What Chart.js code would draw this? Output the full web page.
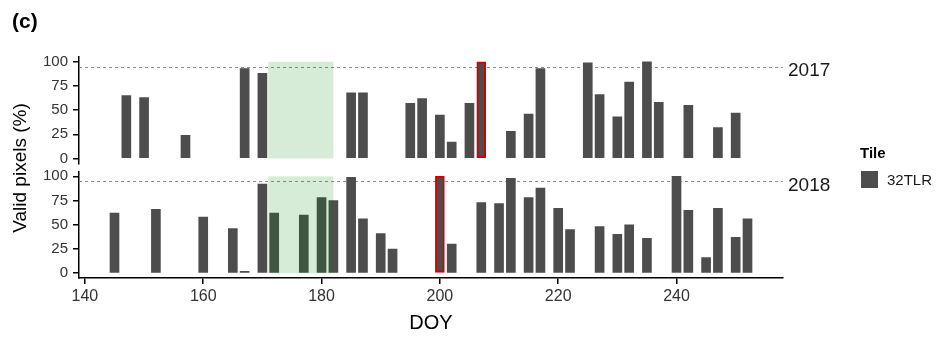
<!DOCTYPE html>
<html>
<head>
<meta charset="utf-8">
<script src="https://cdn.jsdelivr.net/npm/chart.js@4/dist/chart.umd.min.js"></script>
<style>
  body { margin: 0; background: #fff; font-family: "Liberation Sans", Arial, sans-serif; }
  #wrap { position: relative; width: 937px; height: 338px; }
  #chart { position: absolute; left: 0; top: 0; }
  .txt { position: absolute; white-space: nowrap; color: #000; }
</style>
</head>
<body>
<div id="wrap">
  <canvas id="chart" width="937" height="338"></canvas>
  <div class="txt" style="left:12px; top:9px; font-size:21px; font-weight:bold;">(c)</div>
  <div class="txt" style="left:20px; top:168px; font-size:19px; transform:translate(-50%,-50%) rotate(-90deg);">Valid pixels (%)</div>
  <div class="txt" style="left:788px; top:59px; font-size:19px; color:#1a1a1a;">2017</div>
  <div class="txt" style="left:788px; top:174px; font-size:19px; color:#1a1a1a;">2018</div>
  <div class="txt" style="left:860px; top:144px; font-size:15px; font-weight:bold;">Tile</div>
  <div style="position:absolute; left:861px; top:171px; width:17px; height:17px; background:#4d4d4d;"></div>
  <div class="txt" style="left:887px; top:171px; font-size:15px; color:#1a1a1a;">32TLR</div>
</div>
<script>
// day of year of each acquisition and its share of valid pixels
const doy2017 = [147,150,157,167,170,185,187,195,197,200,202,205,207,212,215,217,225,227,230,232,235,237,242,247,250];
const valid2017 = [65,63,24,93,88,68,68,57,62,45,17,57,100,28,46,93,99,66,43,79,100,58,55,32,47];
const doy2018 = [145,152,160,165,167,170,172,177,180,182,185,187,190,192,200,202,207,210,212,215,217,220,222,227,230,232,235,240,242,245,247,250,252];
const valid2018 = [62,66,58,46,2,92,62,60,78,75,99,56,41,25,100,30,73,72,98,78,88,67,45,48,40,50,36,100,65,16,67,37,56];

// marked dates (red outline), shaded window and threshold line
const highlight = { y17: 207, y18: 200 };
const shadeWindow = [171, 182];
const threshold = 95;

const xTicks = [140,160,180,200,220,240];
const yTicks = [0,25,50,75,100];

const barColor = '#4d4d4d';

function pts(days, vals){
    return days.map((d, i) => ({ x: d, y: vals[i] }));
}

function yAxis(weight){
    return {
        type: 'linear', position: 'left', stack: 'panels', stackWeight: weight,
        min: -5, max: 105,
        afterBuildTicks: s => { s.ticks = yTicks.map(v => ({ value: v })); },
        afterFit: s => { s.width = 79; },
        ticks: { autoSkip: false, font: { size: 15, family: '"Liberation Sans", Arial' }, color: '#333', padding: 5 },
        grid: { display: true, drawOnChartArea: false, tickLength: 6, color: '#000', lineWidth: 1.5 },
        border: { display: true, color: '#000', width: 1.5 }
    };
}

// threshold line under the bars, green window over them
const panelMarks = {
    id: 'panelMarks',
    beforeDatasetsDraw(chart){
        const ctx = chart.ctx, a = chart.chartArea;
        ctx.save();
        ctx.strokeStyle = '#8c8c8c';
        ctx.lineWidth = 1;
        ctx.setLineDash([3, 3]);
        ['y17', 'y18'].forEach(id => {
            const y = Math.round(chart.scales[id].getPixelForValue(threshold)) + 0.5;
            ctx.beginPath();
            ctx.moveTo(a.left, y);
            ctx.lineTo(a.right, y);
            ctx.stroke();
        });
        ctx.restore();
    },
    afterDatasetsDraw(chart){
        const ctx = chart.ctx, xs = chart.scales.x;
        const x0 = xs.getPixelForValue(shadeWindow[0]);
        const x1 = xs.getPixelForValue(shadeWindow[1]);
        ctx.save();
        ctx.fillStyle = 'rgba(0,139,0,0.16)';
        ['y17', 'y18'].forEach(id => {
            const s = chart.scales[id];
            const top = s.getPixelForValue(100), bot = s.getPixelForValue(0);
            ctx.fillRect(x0, top, x1 - x0, bot - top);
        });
        ctx.restore();
    }
};

function barSet(label, days, vals, axis){
    return {
        label: label,
        data: pts(days, vals),
        yAxisID: axis,
        backgroundColor: barColor,
        barThickness: 9,
        grouped: false,
        borderSkipped: false,
        borderColor: c => (c.raw && c.raw.x === highlight[axis]) ? '#d40000' : barColor,
        borderWidth: c => (c.raw && c.raw.x === highlight[axis]) ? 2 : 0
    };
}

new Chart(document.getElementById('chart'), {
    type: 'bar',
    data: {
        datasets: [
            barSet('2017', doy2017, valid2017, 'y17'),
            barSet('2018', doy2018, valid2018, 'y18')
        ]
    },
    options: {
        responsive: false,
        animation: false,
        layout: { padding: { left: 0, right: 154, top: 57, bottom: 0 } },
        plugins: { legend: { display: false }, tooltip: { enabled: false } },
        scales: {
            x: {
                type: 'linear', position: 'bottom', min: 139, max: 258, offset: false,
                afterBuildTicks: s => { s.ticks = xTicks.map(v => ({ value: v })); },
                afterFit: s => { s.height = 60; },
                ticks: { autoSkip: false, maxRotation: 0, font: { size: 16, family: '"Liberation Sans", Arial' }, color: '#333', padding: 3 },
                grid: { display: true, offset: false, drawOnChartArea: false, tickLength: 6, color: '#000', lineWidth: 1.5 },
                border: { display: true, color: '#000', width: 1.5 },
                title: { display: true, text: 'DOY', color: '#000', font: { size: 20, family: '"Liberation Sans", Arial' }, padding: { top: 0, bottom: 3 } }
            },
            // stacked boxes are laid out bottom first, so 2018 comes first here
            y18: yAxis(106),
            gap: {
                type: 'linear', position: 'left', stack: 'panels', stackWeight: 8.2,
                min: 0, max: 1, display: false
            },
            y17: yAxis(105.8)
        }
    },
    plugins: [panelMarks]
});
</script>
</body>
</html>
